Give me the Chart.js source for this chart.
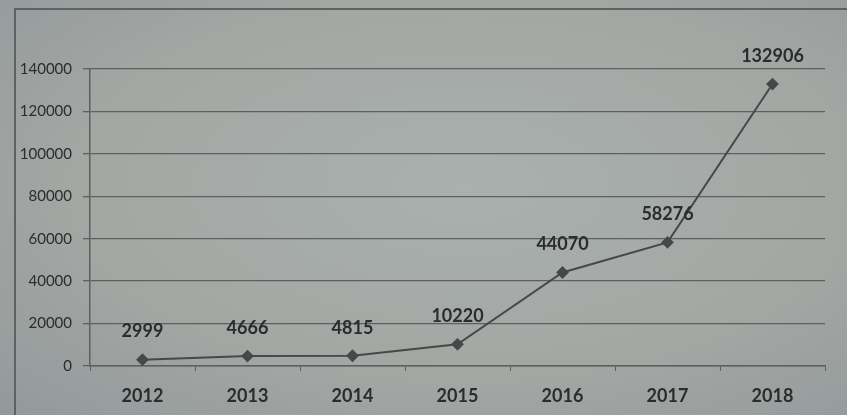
<!DOCTYPE html>
<html>
<head>
<meta charset="utf-8">
<script src="https://cdn.jsdelivr.net/npm/chart.js@4"></script>
<style>
  html, body { margin: 0; padding: 0; }
  body {
    width: 847px; height: 415px; overflow: hidden; position: relative;
    background: radial-gradient(ellipse at 55% 45%, #aab0ad 0%, #a2a7a4 60%, #93989a 100%);
  }
  #frame { position: absolute; left: 14px; top: 8px; width: 900px; height: 500px;
    border-left: 2px solid #5e6261; border-top: 2px solid #5e6261; }
  #c { position: absolute; left: 0; top: 0; }
</style>
</head>
<body>
<div id="frame"></div>
<canvas id="c" width="847" height="415"></canvas>
<script>
  // verdier lest av bildet
  const years = ["2012", "2013", "2014", "2015", "2016", "2017", "2018"];
  const counts = [2999, 4666, 4815, 10220, 44070, 58276, 132906];
  const yTicks = [0, 20000, 40000, 60000, 80000, 100000, 120000, 140000];

  const ink = "#2b2c2c";
  const grid = "#5c605f";

  // tall over hvert punkt
  const pointLabels = {
    id: "pointLabels",
    afterDatasetsDraw(chart) {
      const ctx = chart.ctx;
      const meta = chart.getDatasetMeta(0);
      ctx.save();
      ctx.font = "bold 18px Lato";
      ctx.fillStyle = ink;
      ctx.textAlign = "center";
      ctx.textBaseline = "middle";
      meta.data.forEach((p, i) => ctx.fillText(String(counts[i]), p.x, p.y - 28));
      ctx.restore();
    },
  };

  new Chart(document.getElementById("c"), {
    type: "line",
    data: {
      labels: years,
      datasets: [{
        data: counts,
        borderColor: "#474848", backgroundColor: "#474848",
        borderWidth: 2, pointStyle: "rectRot", pointRadius: 5, tension: 0,
      }],
    },
    options: {
      responsive: false, animation: false,
      layout: { padding: { left: 0, right: 22, top: 69, bottom: 0 } },
      plugins: { legend: { display: false }, tooltip: { enabled: false } },
      scales: {
        x: {
          offset: true,
          grid: { offset: true, drawOnChartArea: false, color: grid, tickLength: 5 },
          border: { color: grid, width: 1.5 },
          ticks: { color: ink, font: { family: "Lato", size: 18, weight: "bold" }, padding: 14, maxRotation: 0 },
          afterFit: (s) => { s.height = 49; },
        },
        y: {
          min: 0, max: 140000,
          afterBuildTicks: (s) => { s.ticks = yTicks.map((v) => ({ value: v })); },
          grid: { color: grid, lineWidth: 1.3, tickLength: 7 },
          border: { color: grid, width: 1.5 },
          ticks: { color: ink, font: { family: "Lato", size: 15 }, padding: 11, callback: (v) => String(v) },
          afterFit: (s) => { s.width = 90; },
        },
      },
    },
    plugins: [pointLabels],
  });
</script>
</body>
</html>
